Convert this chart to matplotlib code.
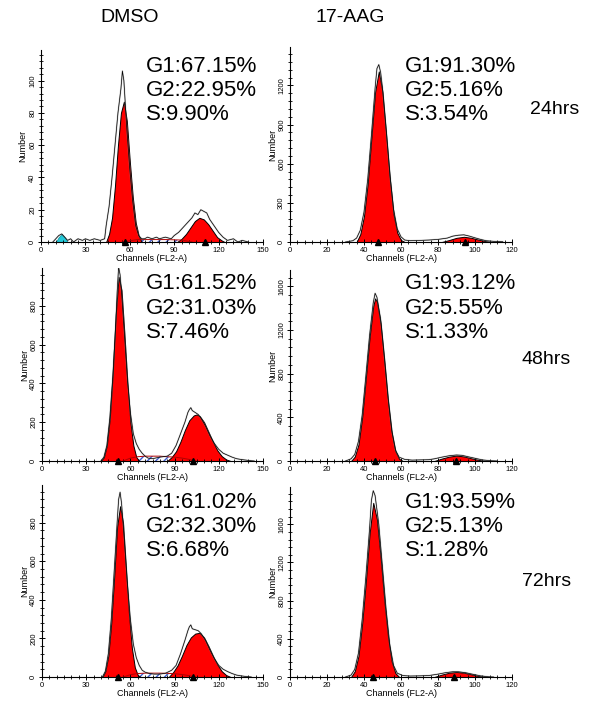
import matplotlib
matplotlib.use("Agg")
import matplotlib.pyplot as plt
from matplotlib.ticker import MultipleLocator

plt.rcParams['font.family'] = ['Liberation Sans', 'DejaVu Sans']

# ---- data (channel, count) ----
# 24 hrs DMSO
d24_raw_x = [8, 10, 12, 14, 16, 18, 20, 22, 25, 28, 30, 33, 36, 40, 43, 44, 46, 48, 50, 52, 54, 55, 56, 57, 58, 60, 62, 64, 66, 68,
             70, 72, 75, 78, 80, 84, 88, 90, 93, 96, 99, 102, 104, 106, 108, 110, 112, 114, 117, 120, 123, 126, 130, 133, 136, 140]
d24_raw_y = [0, 2, 4, 5, 3, 1, 2, 0, 2, 1, 2, 1, 2, 1, 2, 10, 22, 40, 60, 80, 95, 106, 100, 85, 70, 45, 25, 10, 4, 2,
             2, 3, 2, 3, 2, 3, 2, 4, 6, 9, 12, 15, 18, 17, 20, 19, 18, 14, 10, 6, 3, 1, 2, 0, 1, 0]
d24_g1_x = [44, 46, 48, 50, 52, 54, 56, 58, 60, 62, 64, 66, 68]
d24_g1_y = [0, 5, 15, 35, 60, 80, 87, 75, 50, 28, 12, 4, 0]
d24_g2_x = [92, 95, 98, 101, 104, 107, 110, 113, 116, 119, 122, 124]
d24_g2_y = [0, 2, 5, 9, 13, 15, 14, 11, 7, 3, 1, 0]
d24_s_x = [55, 65, 75, 85, 95, 102]
d24_s_y = [0, 1.5, 1.5, 1.5, 1.2, 0]
d24_debris_x = [10, 12, 14, 16, 18]
d24_debris_y = [0, 3, 5, 3, 0]
d24_marks = [56.6, 111]

# 24 hrs 17-AAG
a24_raw_x = [30, 34, 36, 38, 40, 42, 44, 46, 47, 48, 49, 50, 52, 54, 56, 58, 60, 62, 65, 70, 75, 80, 85, 88, 91, 94, 97, 100, 103, 106, 110, 115]
a24_raw_y = [0, 10, 30, 90, 230, 480, 820, 1180, 1330, 1360, 1300, 1180, 860, 520, 250, 100, 40, 15, 10, 12, 15, 20, 30, 45, 52, 55, 45, 32, 20, 10, 5, 2]
a24_g1_x = [36, 38, 40, 42, 44, 46, 48, 50, 52, 54, 56, 58, 60, 62]
a24_g1_y = [0, 60, 200, 450, 800, 1150, 1308, 1150, 820, 480, 210, 70, 15, 0]
a24_g2_x = [82, 86, 90, 94, 98, 102, 106, 109]
a24_g2_y = [0, 15, 32, 40, 32, 18, 6, 0]
a24_marks = [47.6, 94.6]

# 48 hrs DMSO
d48_raw_x = [40, 42, 44, 46, 48, 50, 51, 52, 53, 54, 56, 58, 60, 62, 64, 66, 68, 70, 72, 75, 80, 85, 88, 91, 94, 97, 99, 100,
             101, 102, 104, 106, 108, 111, 114, 117, 120, 123, 126, 129, 132, 135, 138, 141, 144]
d48_raw_y = [0, 20, 80, 220, 430, 700, 870, 1000, 960, 870, 650, 420, 250, 140, 90, 60, 40, 25, 15, 12, 20, 25, 40, 80, 140, 200, 250, 265,
             275, 260, 250, 240, 220, 180, 130, 90, 60, 40, 30, 20, 12, 8, 5, 2, 0]
d48_g1_x = [40, 42, 44, 46, 48, 50, 52, 54, 56, 58, 60, 62, 64, 66]
d48_g1_y = [0, 20, 80, 220, 450, 750, 950, 880, 650, 400, 200, 80, 20, 0]
d48_g2_x = [85, 88, 91, 94, 97, 100, 103, 105, 107, 110, 113, 116, 119, 122, 125, 128]
d48_g2_y = [0, 20, 50, 100, 160, 210, 235, 240, 232, 200, 150, 100, 55, 25, 8, 0]
d48_s_x = [55, 60, 65, 70, 75, 80, 85, 90, 95, 100, 104]
d48_s_y = [0, 15, 22, 25, 25, 25, 22, 20, 15, 8, 0]
d48_marks = [51.6, 102.5]

# 48 hrs 17-AAG
a48_raw_x = [30, 33, 35, 37, 39, 41, 43, 45, 46, 47, 49, 51, 53, 55, 57, 59, 62, 66, 70, 75, 78, 82, 86, 90, 93, 96, 100, 104, 108, 112]
a48_raw_y = [0, 20, 60, 180, 420, 780, 1150, 1450, 1537, 1500, 1300, 950, 580, 280, 100, 35, 15, 8, 10, 12, 20, 35, 48, 55, 52, 40, 25, 10, 3, 0]
a48_g1_x = [33, 35, 37, 39, 41, 43, 45, 46, 47, 49, 51, 53, 55, 57, 59, 61]
a48_g1_y = [0, 40, 150, 400, 760, 1130, 1420, 1490, 1460, 1260, 920, 550, 260, 90, 20, 0]
a48_g2_x = [78, 82, 86, 90, 94, 98, 102, 106]
a48_g2_y = [0, 22, 40, 50, 42, 25, 10, 0]
a48_marks = [46, 89.7]

# 72 hrs DMSO
d72_raw_x = [41, 43, 45, 47, 49, 51, 52, 53, 54, 56, 58, 60, 62, 64, 66, 68, 70, 73, 76, 80, 84, 88, 91, 94, 97, 99, 100, 101,
             102, 104, 106, 108, 111, 114, 117, 120, 123, 126, 129, 132, 135, 138, 142]
d72_raw_y = [0, 30, 120, 300, 550, 800, 920, 958, 900, 700, 480, 300, 170, 100, 60, 35, 25, 18, 15, 15, 20, 35, 60, 120, 190, 240, 260, 270,
             250, 245, 240, 225, 190, 140, 95, 60, 40, 28, 18, 10, 6, 3, 0]
d72_g1_x = [41, 43, 45, 47, 49, 51, 53, 55, 57, 59, 61, 63, 65, 67]
d72_g1_y = [0, 30, 110, 280, 520, 780, 885, 800, 560, 330, 150, 50, 10, 0]
d72_g2_x = [86, 89, 92, 95, 98, 101, 104, 107, 110, 113, 116, 119, 122, 125, 128]
d72_g2_y = [0, 25, 60, 110, 165, 205, 225, 229, 205, 160, 110, 65, 30, 10, 0]
d72_s_x = [55, 60, 65, 70, 75, 80, 85, 90, 95, 100, 104]
d72_s_y = [0, 12, 18, 20, 20, 20, 19, 17, 13, 7, 0]
d72_marks = [51.6, 102.5]

# 72 hrs 17-AAG
a72_raw_x = [30, 33, 35, 37, 39, 41, 43, 44, 45, 46, 48, 50, 52, 54, 56, 58, 61, 65, 70, 75, 80, 84, 88, 91, 95, 99, 103, 107, 110]
a72_raw_y = [0, 20, 80, 250, 600, 1050, 1550, 1850, 1951, 1900, 1600, 1150, 700, 330, 120, 40, 15, 10, 12, 15, 30, 45, 55, 55, 45, 28, 12, 3, 0]
a72_g1_x = [33, 35, 37, 39, 41, 43, 45, 47, 49, 51, 53, 55, 57, 59]
a72_g1_y = [0, 60, 220, 560, 1000, 1500, 1824, 1650, 1250, 800, 420, 160, 40, 0]
a72_g2_x = [78, 82, 86, 90, 94, 98, 102, 106]
a72_g2_y = [0, 25, 45, 53, 45, 28, 10, 0]
a72_marks = [45, 88.6]

stats_dmso = [["G1:67.15%", "G2:22.95%", "S:9.90%"],
              ["G1:61.52%", "G2:31.03%", "S:7.46%"],
              ["G1:61.02%", "G2:32.30%", "S:6.68%"]]
stats_aag = [["G1:91.30%", "G2:5.16%", "S:3.54%"],
             ["G1:93.12%", "G2:5.55%", "S:1.33%"],
             ["G1:93.59%", "G2:5.13%", "S:1.28%"]]
times = ["24hrs", "48hrs", "72hrs"]

W, H = 600, 717
fig = plt.figure(figsize=(W / 100, H / 100), dpi=100)


def px_axes(x0, y0, x1, y1):
    return fig.add_axes([x0 / W, 1 - y1 / H, (x1 - x0) / W, (y1 - y0) / H])


def ftext(x, y, s, size, ha='left'):
    fig.text(x / W, 1 - y / H, s, fontsize=size, ha=ha, va='center')


def histo(ax, raw_x, raw_y, g1_x, g1_y, g2_x, g2_y, marks, xmax, ymax, xmaj, xmin, ymaj, ymin,
          s_x=None, s_y=None, deb_x=None, deb_y=None):
    if s_x is not None:
        ax.fill_between(s_x, s_y, facecolor='none', edgecolor='#3a5bd0', hatch='////', lw=0)
        ax.plot(s_x, s_y, color='#b00000', lw=0.7)
    if deb_x is not None:
        ax.fill_between(deb_x, deb_y, color='#22c8d8', lw=0.5, edgecolor='#0090a0')
    ax.fill_between(g1_x, g1_y, facecolor='red', edgecolor='black', lw=0.7)
    ax.fill_between(g2_x, g2_y, facecolor='red', edgecolor='black', lw=0.7)
    ax.plot(raw_x, raw_y, color='#888888', lw=1.2, alpha=0.4)
    ax.plot(raw_x, raw_y, color='black', lw=0.5)
    ax.plot(marks, [0] * len(marks), '^', color='black', ms=5, clip_on=False, zorder=5)
    ax.set_xlim(0, xmax)
    ax.set_ylim(0, ymax)
    for sp in ['top', 'right']:
        ax.spines[sp].set_visible(False)
    ax.spines['left'].set_linewidth(0.8)
    ax.spines['bottom'].set_linewidth(0.8)
    ax.xaxis.set_major_locator(MultipleLocator(xmaj))
    ax.xaxis.set_minor_locator(MultipleLocator(xmin))
    ax.yaxis.set_major_locator(MultipleLocator(ymaj))
    ax.yaxis.set_minor_locator(MultipleLocator(ymin))
    ax.tick_params(which='major', length=4, width=0.7, labelsize=5.5, pad=1.5, direction='inout')
    ax.tick_params(which='minor', length=2.5, width=0.6, direction='inout')
    ax.tick_params(axis='y', labelrotation=90)
    for lab in ax.get_yticklabels():
        lab.set_va('center')
    ax.set_xlabel("Channels (FL2-A)", fontsize=6.5, labelpad=0)
    ax.set_ylabel("Number", fontsize=6.5, labelpad=1)


# axes rectangles in pixels
ax1 = px_axes(41, 50, 263, 242)
ax2 = px_axes(290, 47, 512, 242)
ax3 = px_axes(42, 268, 263, 461)
ax4 = px_axes(290, 270, 512, 461)
ax5 = px_axes(42, 485, 263, 677)
ax6 = px_axes(290, 487, 512, 677)

histo(ax1, d24_raw_x, d24_raw_y, d24_g1_x, d24_g1_y, d24_g2_x, d24_g2_y, d24_marks, 150, 119, 30, 5, 20, 4,
      d24_s_x, d24_s_y, d24_debris_x, d24_debris_y)
histo(ax2, a24_raw_x, a24_raw_y, a24_g1_x, a24_g1_y, a24_g2_x, a24_g2_y, a24_marks, 120, 1495, 20, 4, 300, 60)
histo(ax3, d48_raw_x, d48_raw_y, d48_g1_x, d48_g1_y, d48_g2_x, d48_g2_y, d48_marks, 150, 995, 30, 5, 200, 40,
      d48_s_x, d48_s_y)
histo(ax4, a48_raw_x, a48_raw_y, a48_g1_x, a48_g1_y, a48_g2_x, a48_g2_y, a48_marks, 120, 1750, 20, 4, 400, 80)
histo(ax5, d72_raw_x, d72_raw_y, d72_g1_x, d72_g1_y, d72_g2_x, d72_g2_y, d72_marks, 150, 995, 30, 5, 200, 40,
      d72_s_x, d72_s_y)
histo(ax6, a72_raw_x, a72_raw_y, a72_g1_x, a72_g1_y, a72_g2_x, a72_g2_y, a72_marks, 120, 1990, 20, 4, 400, 80)

# column titles
ftext(130, 17, "DMSO", 14, ha='center')
ftext(350, 17, "17-AAG", 14, ha='center')

# phase percentages and time labels
row_y = [66, 284, 502]
for i in range(3):
    for j in range(3):
        ftext(146, row_y[i] + 24 * j, stats_dmso[i][j], 16)
        ftext(405, row_y[i] + 24 * j, stats_aag[i][j], 16)
time_y = [110, 360, 582]
time_x = [530, 521, 522]
for i in range(3):
    ftext(time_x[i], time_y[i], times[i], 14)

fig.savefig("out.png", dpi=100)
